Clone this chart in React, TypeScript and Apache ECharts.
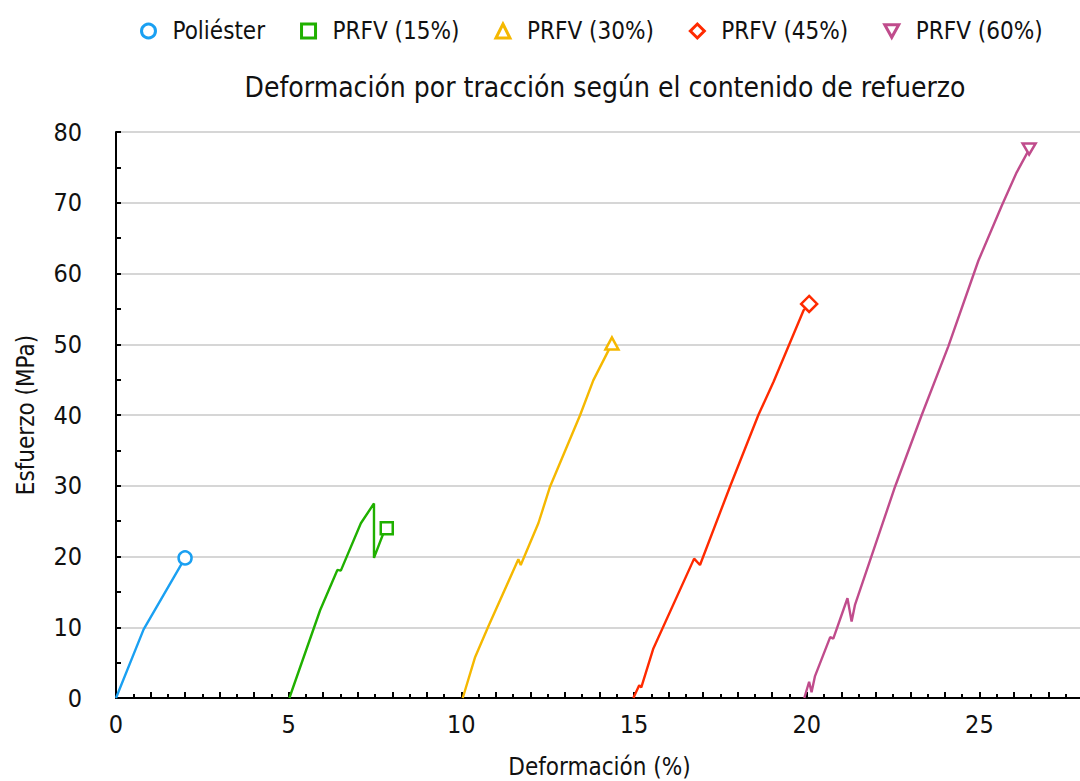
import React, { useEffect, useRef } from "react";
import * as echarts from "echarts";

const seriesNames = ["Poliéster", "PRFV (15%)", "PRFV (30%)", "PRFV (45%)", "PRFV (60%)"];
const seriesColors = ["#1aa0f2", "#20b000", "#f5b800", "#ff2a00", "#c04c8c"];
const seriesSymbols = ["circle", "rect", "triangle", "diamond", "path://M0,0 L10,0 L5,9 Z"];
const markerSizes: (number | number[])[] = [13, 12, [13, 12], 16, [13, 11]];

const poliester: number[][] = [[0, 0], [0.8, 9.7], [2.0, 19.8]];
const prfv15: number[][] = [
  [5.02, 0], [5.91, 12.4], [6.41, 18.1], [6.51, 18.0], [7.09, 24.7], [7.47, 27.5],
  [7.47, 19.8], [7.72, 23.0], [7.84, 24.0],
];
const prfv30: number[][] = [
  [10.04, 0], [10.4, 5.8], [10.78, 10.1], [11.65, 19.6], [11.72, 18.8], [12.23, 24.7],
  [12.57, 29.9], [13.44, 40.0], [13.82, 44.9], [14.32, 49.7], [14.36, 50.1],
];
const prfv45: number[][] = [
  [14.98, 0], [15.15, 1.8], [15.21, 1.5], [15.56, 7.0], [16.74, 19.7], [16.91, 18.8],
  [17.78, 29.9], [18.6, 40.0], [19.04, 44.7], [19.91, 54.8], [20.07, 55.7],
];
const prfv60: number[][] = [
  [19.93, 0], [20.07, 2.3], [20.14, 0.8], [20.24, 3.1], [20.68, 8.6], [20.77, 8.4],
  [21.18, 14.1], [21.3, 10.8], [21.4, 13.2], [22.56, 29.9], [23.33, 40.0], [24.1, 49.7],
  [24.97, 61.8], [25.65, 69.6], [26.08, 74.3], [26.37, 76.9], [26.44, 77.6],
];
const allData = [poliester, prfv15, prfv30, prfv45, prfv60];

const xTickLabels = ["0", "5", "10", "15", "20", "25"];

const FONT = '"Liberation Sans Narrow", "DejaVu Sans Condensed", "Roboto Condensed", "Liberation Sans", sans-serif';

export default function App() {
  const ref = useRef<HTMLDivElement>(null);
  useEffect(() => {
    if (!ref.current) return;
    const chart = echarts.init(ref.current, undefined, { renderer: "svg" });
    const series = allData.map((arr, si) => ({
      name: seriesNames[si],
      type: "line",
      data: arr.map((p, i) =>
        i === arr.length - 1 ? { value: p } : { value: p, symbol: "none" }
      ),
      symbol: seriesSymbols[si],
      symbolSize: markerSizes[si],
      showSymbol: true,
      lineStyle: { color: seriesColors[si], width: 2.4 },
      itemStyle: { color: "#fff", borderColor: seriesColors[si], borderWidth: 2.5 },
      z: 3,
    }));
    chart.setOption({
      animation: false,
      textStyle: { fontFamily: FONT },
      title: {
        text: "Deformación por tracción según el contenido de refuerzo",
        left: 600,
        top: 68,
        textAlign: "center",
        textStyle: { fontFamily: FONT, fontSize: 28, fontWeight: "normal", color: "#111" },
      },
      legend: {
        left: 135,
        top: 14,
        itemWidth: 14,
        itemHeight: 14,
        itemGap: 35,
        textStyle: { fontFamily: FONT, fontSize: 24, color: "#111", padding: [0, 0, 0, 12] },
        data: seriesNames.map((n, i) => ({
          name: n,
          icon: seriesSymbols[i],
          itemStyle: { color: "#fff", borderColor: seriesColors[i], borderWidth: 3 },
        })),
      },
      grid: {
        left: 116,
        top: 132,
        width: 967,
        height: 566,
        containLabel: false,
        outerBoundsMode: "none",
      },
      xAxis: {
        type: "value",
        min: 0,
        max: 28,
        interval: 1,
        name: "Deformación (%)",
        nameLocation: "middle",
        nameGap: 57,
        nameTextStyle: { fontFamily: FONT, fontSize: 24, color: "#111" },
        axisLine: { show: true, onZero: false, lineStyle: { color: "#000", width: 2 } },
        axisTick: { show: true, inside: true, length: 6, lineStyle: { color: "#000", width: 2 } },
        minorTick: { show: true, splitNumber: 2, length: 4, lineStyle: { color: "#000", width: 2 } },
        splitLine: { show: false },
        axisLabel: {
          margin: 14,
          fontFamily: FONT,
          fontSize: 25,
          color: "#111",
          formatter: (v: number) => (xTickLabels.includes(String(v)) ? String(v) : ""),
        },
      },
      yAxis: {
        type: "value",
        min: 0,
        max: 80,
        interval: 10,
        name: "Esfuerzo (MPa)",
        nameLocation: "middle",
        nameGap: 78,
        nameTextStyle: { fontFamily: FONT, fontSize: 24, color: "#111" },
        axisLine: { show: true, lineStyle: { color: "#000", width: 2 } },
        axisTick: { show: true, inside: true, length: 5, lineStyle: { color: "#000", width: 2 } },
        minorTick: { show: true, splitNumber: 2, length: 5, lineStyle: { color: "#000", width: 2 } },
        splitLine: { show: true, lineStyle: { color: "#c8c8c8", width: 1.5 } },
        axisLabel: { margin: 34, fontFamily: FONT, fontSize: 25, color: "#111" },
      },
      series,
    });
    return () => chart.dispose();
  }, []);
  return (
    <div
      ref={ref}
      style={{ position: "fixed", left: 0, top: 0, width: 1080, height: 781, background: "#fff" }}
    />
  );
}
